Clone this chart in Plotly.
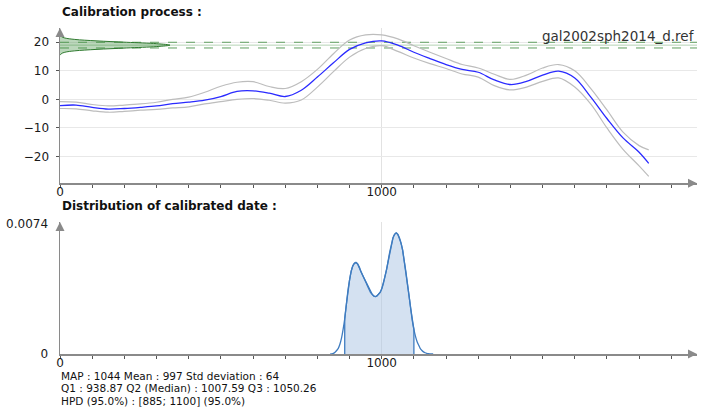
import plotly.graph_objects as go

W, H = 703, 407

# ---------------- data ----------------
curve_years = [0, 50, 100, 150, 200, 250, 300, 350, 400, 450, 500, 550, 600, 650, 700, 750, 800, 850, 900,
               950, 1000, 1050, 1100, 1150, 1200, 1250, 1300, 1350, 1400, 1450, 1500, 1550, 1600, 1650, 1700,
               1750, 1800, 1830]
curve_mean = [-2.2, -2.0, -2.8, -3.4, -3.2, -2.8, -2.3, -1.5, -1.0, -0.3, 1.0, 2.8, 3.0, 2.2, 1.0, 3.2, 7.8,
              12.8, 17.5, 19.8, 20.5, 19.0, 16.5, 14.3, 12.2, 10.5, 9.5, 6.8, 5.2, 6.3, 8.5, 9.9, 7.5, 0.8,
              -6.7, -13.5, -18.5, -22.4]
curve_upper = [-0.8, -1.0, -1.8, -2.3, -2.0, -1.6, -1.0, 0.0, 0.8, 2.5, 4.6, 6.0, 6.2, 4.5, 3.8, 6.2, 10.5,
               16.0, 20.8, 22.6, 22.6, 21.2, 18.8, 16.5, 14.3, 12.2, 11.0, 8.8, 7.0, 8.5, 11.0, 12.2, 10.0, 3.8,
               -3.7, -11.5, -16.2, -17.7]
curve_lower = [-3.2, -3.3, -4.0, -4.5, -4.2, -3.8, -3.5, -3.0, -2.6, -1.6, -0.8, 0.0, 0.3, -0.3, -1.3, -0.2,
               4.3, 9.7, 14.8, 17.8, 18.8, 16.8, 14.5, 12.5, 10.8, 8.9, 7.8, 4.8, 3.3, 4.3, 6.3, 7.5, 4.3, -1.7,
               -10.0, -17.5, -23.3, -27.0]

ref_name = "gal2002sph2014_d.ref"
ref_value = 19.0
ref_error = 1.0
ref_y = [15.5, 16.0, 16.5, 17.0, 17.5, 18.0, 18.5, 19.0, 19.5, 20.0, 20.5, 21.0, 21.5, 22.0, 22.5]
ref_width = [1, 4, 15, 46, 112, 207, 301, 342, 301, 207, 112, 46, 15, 4, 1]

dens_years = list(range(840, 1165, 5))
dens_vals = [0, 0.00001, 0.00004, 0.0001, 0.0002, 0.00032, 0.00055, 0.0009, 0.0014, 0.0020, 0.0028, 0.0036,
             0.0042, 0.0047, 0.0050, 0.00515, 0.0052, 0.00512, 0.00495, 0.0047, 0.0045, 0.0043, 0.0041, 0.0039,
             0.0037, 0.0035, 0.0034, 0.0033, 0.00326, 0.0033, 0.0034, 0.0035, 0.0037, 0.0040, 0.0044, 0.0048,
             0.0053, 0.0058, 0.0062, 0.0066, 0.0068, 0.00688, 0.0068, 0.0066, 0.0063, 0.0059, 0.0053, 0.0047,
             0.0040, 0.0033, 0.0026, 0.0019, 0.0014, 0.0010, 0.0007, 0.0005, 0.0003, 0.0002, 0.00012, 0.00007,
             0.00004, 0.00002, 0.00001, 0, 0]
hpd = [885, 1100]
dens_max_label = 0.0074

stats_lines = [
    "MAP : 1044 Mean : 997 Std deviation : 64",
    "Q1 : 938.87 Q2 (Median) : 1007.59 Q3 : 1050.26",
    "HPD (95.0%) : [885; 1100] (95.0%)",
]

# ---------------- layout geometry ----------------
X_MAX = 1980
Y1_RANGE = [-29.4, 25]
Y2_RANGE = [0, 0.0075]
x_dom = [60 / W, 697 / W]
y1_dom = [1 - 183.3 / H, 1 - 28 / H]
y2_dom = [1 - 354 / H, 1 - 222 / H]

FONT = "DejaVu Sans, Verdana, sans-serif"
AXC = "#8a8a8a"
TXT = "#1a1a1a"

fig = go.Figure()

# reference band lines
for v, dash, col in [(ref_value + ref_error, "dash", "#5f9f5f"),
                     (ref_value, "solid", "#b5d3b5"),
                     (ref_value - ref_error, "dash", "#5f9f5f")]:
    fig.add_trace(go.Scatter(x=[0, X_MAX], y=[v, v], mode="lines",
                             line=dict(color=col, width=1, dash=dash),
                             xaxis="x", yaxis="y", hoverinfo="skip", showlegend=False))

# reference gaussian (sideways)
fig.add_trace(go.Scatter(x=ref_width, y=ref_y, mode="lines", fill="tozerox",
                         fillcolor="rgba(60,140,60,0.35)", line=dict(color="#2f7a2f", width=1, shape="spline"),
                         xaxis="x", yaxis="y", hoverinfo="skip", showlegend=False))

# envelopes + mean curve
for ys in (curve_upper, curve_lower):
    fig.add_trace(go.Scatter(x=curve_years, y=ys, mode="lines",
                             line=dict(color="#bdbdbd", width=1.2, shape="spline", smoothing=1),
                             xaxis="x", yaxis="y", showlegend=False))
fig.add_trace(go.Scatter(x=curve_years, y=curve_mean, mode="lines",
                         line=dict(color="#2a2aff", width=1.3, shape="spline", smoothing=1),
                         xaxis="x", yaxis="y", showlegend=False))

# density: HPD fill
hx = [x for x in dens_years if hpd[0] <= x <= hpd[1]]
hy = [y for x, y in zip(dens_years, dens_vals) if hpd[0] <= x <= hpd[1]]
fig.add_trace(go.Scatter(x=[hx[0]] + hx + [hx[-1]], y=[0] + hy + [0], mode="lines", fill="toself",
                         fillcolor="rgba(170,195,228,0.5)", line=dict(color="#3f7cc0", width=1.3),
                         xaxis="x2", yaxis="y2", showlegend=False))
fig.add_trace(go.Scatter(x=dens_years, y=dens_vals, mode="lines",
                         line=dict(color="#3f7cc0", width=1.3, shape="spline", smoothing=0.6),
                         xaxis="x2", yaxis="y2", showlegend=False))

TF = dict(family=FONT, size=12, color=TXT)
common_x = dict(domain=x_dom, range=[0, X_MAX], tickvals=[0, 1000], ticktext=["0", "1000"],
                showline=True, linecolor=AXC, linewidth=1.5, ticks="outside", ticklen=3, tickcolor="#555",
                showgrid=True, gridcolor="#e2e2e2", gridwidth=1, zeroline=False, ticklabelstandoff=-6,
                minor=dict(dtick=100, tick0=0, ticks="outside", ticklen=3, tickcolor="#555", showgrid=False),
                tickfont=TF, fixedrange=True)

fig.update_layout(
    width=W, height=H, margin=dict(l=0, r=0, t=0, b=0, autoexpand=False),
    paper_bgcolor="white", plot_bgcolor="white", showlegend=False,
    font=dict(family=FONT, size=12, color=TXT),
    xaxis=dict(anchor="y", **common_x),
    yaxis=dict(domain=y1_dom, range=Y1_RANGE, tickvals=[-20, -10, 0, 10, 20],
               showline=True, linecolor=AXC, linewidth=1.5, ticks="outside", ticklen=3, tickcolor="#555",
               showgrid=True, gridcolor="#e8e8e8", zeroline=False, ticklabelstandoff=4,
               tickfont=TF, anchor="x", fixedrange=True),
    xaxis2=dict(anchor="y2", **common_x),
    yaxis2=dict(domain=y2_dom, range=Y2_RANGE, tickvals=[0, dens_max_label],
                ticktext=["0", str(dens_max_label)],
                showline=True, linecolor=AXC, linewidth=1.5, ticks="", showgrid=False,
                zeroline=False, ticklabelstandoff=8, tickfont=TF, anchor="x2", fixedrange=True),
)

ann = []
ann.append(dict(text="<b>Calibration process :</b>", x=60 / W, y=1 - 12 / H, xref="paper", yref="paper",
                xanchor="left", yanchor="middle", showarrow=False, font=dict(size=12, family=FONT, color="#111")))
ann.append(dict(text="<b>Distribution of calibrated date :</b>", x=60 / W, y=1 - 206 / H, xref="paper",
                yref="paper", xanchor="left", yanchor="middle", showarrow=False,
                font=dict(size=12, family=FONT, color="#111")))
ann.append(dict(text=ref_name, x=697 / W, y=1 - 36 / H, xref="paper", yref="paper", xanchor="right",
                yanchor="middle", showarrow=False, font=dict(size=13.5, family=FONT, color="#333")))
for i, line in enumerate(stats_lines):
    ann.append(dict(text=line, x=60 / W, y=1 - (375.8 + 12.4 * i) / H, xref="paper", yref="paper",
                    xanchor="left", yanchor="middle", showarrow=False, borderpad=0,
                    font=dict(size=10.5, family=FONT, color="#111")))
# axis arrowheads
for (xa, ya, axo, ayo) in [(x_dom[0], y1_dom[1], 0, 10), (x_dom[1], y1_dom[0], -10, 0),
                           (x_dom[0], y2_dom[1], 0, 10), (x_dom[1], y2_dom[0], -10, 0)]:
    ann.append(dict(text="", x=xa, y=ya, xref="paper", yref="paper", ax=axo, ay=ayo, showarrow=True,
                    arrowhead=2, arrowsize=1.2, arrowwidth=1.5, arrowcolor=AXC))
fig.update_layout(annotations=ann)

fig.write_html("out.html", config={"displayModeBar": False, "staticPlot": True},
               post_script="document.body.style.margin='0';document.body.style.padding='0';")
